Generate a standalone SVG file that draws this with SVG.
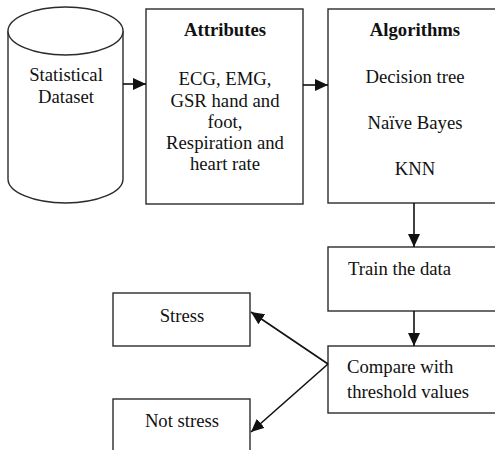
<svg xmlns="http://www.w3.org/2000/svg" width="495" height="450" viewBox="0 0 495 450">
<style>
.box{fill:#fff;stroke:#2b2b2b;stroke-width:1.4}
.t{font-family:"Liberation Serif","Times New Roman",serif;font-size:18.7px;fill:#111}
.c{text-anchor:middle}
.b{font-weight:bold}
.conn{stroke:#111;stroke-width:1.6;fill:none}
</style>
<defs>
<marker id="ah" viewBox="0 0 10 10" refX="10" refY="5" markerWidth="13" markerHeight="12" markerUnits="userSpaceOnUse" orient="auto" preserveAspectRatio="none">
<path d="M0,0 L10,5 L0,10 Z" fill="#111"/>
</marker>
</defs>
<rect width="495" height="450" fill="#fff"/>
<g id="dataset">
<path class="box" d="M8,31 L8,179 A57.5,24 0 0 0 123,179 L123,31"/>
<ellipse class="box" cx="65.5" cy="31" rx="57.5" ry="24"/>
<text class="t c" x="66" y="81">Statistical</text>
<text class="t c" x="66" y="103">Dataset</text>
</g>
<g id="attributes">
<rect class="box" x="146" y="9" width="157" height="195"/>
<text class="t c b" x="225" y="36">Attributes</text>
<text class="t c" x="225" y="85">ECG, EMG,</text>
<text class="t c" x="225" y="107">GSR hand and</text>
<text class="t c" x="225" y="128">foot,</text>
<text class="t c" x="225" y="149">Respiration and</text>
<text class="t c" x="225" y="170">heart rate</text>
</g>
<g id="algorithms">
<rect class="box" x="328" y="9" width="180" height="194"/>
<text class="t c b" x="415" y="36">Algorithms</text>
<text class="t c" x="415" y="83">Decision tree</text>
<text class="t c" x="415" y="129">Naïve Bayes</text>
<text class="t c" x="415" y="175">KNN</text>
</g>
<g id="train">
<rect class="box" x="328" y="247" width="180" height="64"/>
<text class="t" x="348" y="275">Train the data</text>
</g>
<g id="compare">
<rect class="box" x="328" y="346" width="180" height="67"/>
<text class="t" x="347" y="373">Compare with</text>
<text class="t" x="347" y="398">threshold values</text>
</g>
<g id="stress">
<rect class="box" x="113" y="293" width="137" height="53"/>
<text class="t c" x="182" y="322">Stress</text>
</g>
<g id="notstress">
<rect class="box" x="113" y="399" width="137" height="60"/>
<text class="t c" x="182" y="427">Not stress</text>
</g>
<g id="connectors">
<line class="conn" x1="123" y1="84" x2="146" y2="84" marker-end="url(#ah)"/>
<line class="conn" x1="303" y1="85" x2="328" y2="85" marker-end="url(#ah)"/>
<line class="conn" x1="414" y1="203" x2="414" y2="247" marker-end="url(#ah)"/>
<line class="conn" x1="414" y1="311" x2="414" y2="346" marker-end="url(#ah)"/>
<line class="conn" x1="328" y1="364" x2="251" y2="312" marker-end="url(#ah)"/>
<line class="conn" x1="328" y1="364" x2="251" y2="432" marker-end="url(#ah)"/>
</g>
</svg>
